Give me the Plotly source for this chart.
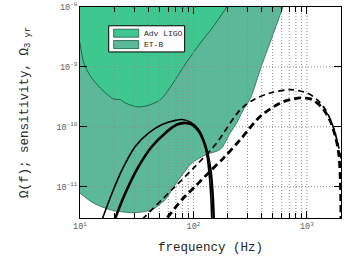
import math
import plotly.graph_objects as go

# ---------------- data ----------------
X_RANGE = [10, 2000]
Y_RANGE = [3e-12, 1e-8]
X_TICKS = [10, 100, 1000]
X_TICK_TEXT = ["10<sup>1</sup>", "10<sup>2</sup>", "10<sup>3</sup>"]
Y_TICKS = [1e-11, 1e-10, 1e-9, 1e-8]
Y_TICK_TEXT = ["10<sup>-11</sup>", "10<sup>-10</sup>", "10<sup>-9</sup>", "10<sup>-8</sup>"]

FREQ_LIGO = [10, 10.8, 12.4, 15.1, 19.7, 22.7, 25.1, 31.9, 39.1, 51.2, 69.3, 82.2, 115,
             146.9, 198]
OMEGA_LIGO = [2.53e-9, 1.16e-9, 6.95e-10, 4.45e-10, 2.92e-10, 2.84e-10, 2.50e-10,
              2.15e-10, 2.25e-10, 2.84e-10, 6.12e-10, 1.02e-9, 2.50e-9, 4.5e-9, 1.02e-8]

FREQ_ET = [10, 13.2, 18.6, 25, 32, 43, 50, 56.7, 66, 74.2, 86, 97.4, 127.6, 173,
           212, 240, 276, 318, 397, 490, 616]
OMEGA_ET = [7.8e-12, 5.3e-12, 4.1e-12, 3.75e-12, 3.7e-12, 4.1e-12, 5.0e-12, 6.1e-12,
            9.5e-12, 1.32e-11, 1.9e-11, 2.5e-11, 3.4e-11, 4.2e-11, 8.0e-11, 1.15e-10,
            1.94e-10, 3.0e-10, 1.02e-9, 3.0e-9, 1.0e-8]

FREQ_SOLID_THIN = [15.0, 15.88, 19.22, 23.54, 30.83, 40.37, 52.97, 69.36, 79.5, 94.1,
                   111.4, 126.3, 135.0, 142.0, 145.5]
OMEGA_SOLID_THIN = [2.28e-12, 3.03e-12, 7.91e-12, 1.93e-11, 4.73e-11, 7.91e-11, 1.09e-10,
                    1.28e-10, 1.32e-10, 1.19e-10, 8.98e-11, 5.05e-11, 2.26e-11, 7.41e-12,
                    2.34e-12]

FREQ_SOLID_THICK = [19.33, 20.55, 25.17, 32.96, 43.25, 56.65, 71.84, 85.0, 97.4, 111.4,
                    127.6, 141.2, 147.9, 151.0, 152.5]
OMEGA_SOLID_THICK = [2.17e-12, 3.03e-12, 7.91e-12, 2.20e-11, 4.73e-11, 7.91e-11, 1.09e-10,
                     1.16e-10, 1.09e-10, 8.41e-11, 4.73e-11, 1.93e-11, 6.95e-12, 3.03e-12,
                     2.09e-12]

FREQ_DASH_THIN = [30.83, 36.48, 64.9, 104.1, 156.2, 259.5, 339.9, 476.9, 715.6,
                  1004, 1230, 1455, 1678, 1857, 2055]
OMEGA_DASH_THIN = [2.20e-12, 3.03e-12, 8.98e-12, 2.20e-11, 5.05e-11, 1.94e-10,
                   2.84e-10, 3.67e-10, 4.17e-10, 3.67e-10, 2.84e-10, 1.94e-10, 1.09e-10,
                   5.66e-11, 2.34e-11]

FREQ_DASH_THICK = [51.2, 58.7, 79.5, 104.1, 136.4, 184.9, 259.5, 389.3, 584.1, 715.6,
                   876.3, 1074, 1230, 1406, 1611, 1783, 1906, 1973, 1997, 1999]
OMEGA_DASH_THICK = [2.21e-12, 3.03e-12, 6.12e-12, 1.02e-11, 1.71e-11, 3.03e-11, 6.12e-11,
                    1.50e-10, 2.50e-10, 2.84e-10, 3.03e-10, 2.92e-10, 2.50e-10, 1.94e-10,
                    1.24e-10, 6.95e-11, 3.67e-11, 1.32e-11, 3.22e-12, 1.5e-12]

LEGEND_LABELS = ["Adv LIGO", "ET-B"]

# ---------------- styles ----------------
MONO = "Liberation Mono"
LIGO_COLOR = "#3ec78f"
ET_COLOR = "#5bb898"
EDGE_COLOR = "#1b5a44"
GRID_COLOR = "#8c8c8c"
TICK_FONT_COLOR = "#606060"
TITLE_COLOR = "#262626"

fig = go.Figure()

def top_edge():
    fig.add_trace(go.Scatter(x=X_RANGE, y=[Y_RANGE[1]] * 2, mode="lines",
                             line=dict(width=0, color="rgba(0,0,0,0)"),
                             showlegend=False, hoverinfo="skip"))

# filled sensitivity regions
top_edge()
fig.add_trace(go.Scatter(x=FREQ_ET, y=OMEGA_ET, mode="lines", fill="tonexty",
                         fillcolor=ET_COLOR, name=LEGEND_LABELS[1],
                         line=dict(color=EDGE_COLOR, width=0.7, shape="spline", smoothing=0.8),
                         showlegend=False))
top_edge()
fig.add_trace(go.Scatter(x=FREQ_LIGO, y=OMEGA_LIGO, mode="lines", fill="tonexty",
                         fillcolor=LIGO_COLOR, name=LEGEND_LABELS[0],
                         line=dict(color=EDGE_COLOR, width=0.9, shape="spline", smoothing=0.8),
                         showlegend=False))

# dotted grid drawn above fills, below curves (as in the reference)
gx, gy = [], []
for d in range(1, 4):
    for m in range(1, 10):
        f = m * 10 ** d
        if X_RANGE[0] < f < X_RANGE[1]:
            gx += [f, f, None]
            gy += [Y_RANGE[0], Y_RANGE[1], None]
for v in Y_TICKS:
    if Y_RANGE[0] < v < Y_RANGE[1]:
        gx += [X_RANGE[0], X_RANGE[1], None]
        gy += [v, v, None]
fig.add_trace(go.Scatter(x=gx, y=gy, mode="lines", hoverinfo="skip", showlegend=False,
                         line=dict(color=GRID_COLOR, width=1, dash="1px,2px")))

fig.add_trace(go.Scatter(x=FREQ_SOLID_THIN, y=OMEGA_SOLID_THIN, mode="lines",
                         line=dict(color="black", width=1.6, shape="spline", smoothing=1.0),
                         showlegend=False))
fig.add_trace(go.Scatter(x=FREQ_SOLID_THICK, y=OMEGA_SOLID_THICK, mode="lines",
                         line=dict(color="black", width=2.6, shape="spline", smoothing=1.0),
                         showlegend=False))
fig.add_trace(go.Scatter(x=FREQ_DASH_THIN, y=OMEGA_DASH_THIN, mode="lines",
                         line=dict(color="black", width=1.7, dash="6px,4px",
                                   shape="spline", smoothing=0.9),
                         showlegend=False))
fig.add_trace(go.Scatter(x=FREQ_DASH_THICK, y=OMEGA_DASH_THICK, mode="lines",
                         line=dict(color="black", width=2.8, dash="7px,4px",
                                   shape="spline", smoothing=0.9),
                         showlegend=False))

axis_common = dict(
    type="log", showline=True, linecolor="black", linewidth=1, mirror="ticks",
    ticks="inside", ticklen=7, tickcolor="black", tickwidth=1,
    showgrid=False, zeroline=False, automargin=False,
    tickfont=dict(family=MONO, size=8.5, color=TICK_FONT_COLOR),
    title_font=dict(family=MONO, size=12.5, color=TITLE_COLOR),
)

fig.update_xaxes(**axis_common, range=[math.log10(X_RANGE[0]), math.log10(X_RANGE[1])],
                 tickmode="array", tickvals=X_TICKS, ticktext=X_TICK_TEXT,
                 minor=dict(dtick="D1", ticks="inside", ticklen=5, tickcolor="black",
                            showgrid=False),
                 title=dict(text="frequency (Hz)", standoff=11))
fig.update_yaxes(**axis_common, range=[math.log10(Y_RANGE[0]), math.log10(Y_RANGE[1])],
                 tickmode="array", tickvals=Y_TICKS, ticktext=Y_TICK_TEXT,
                 title=dict(text="Ω(f); sensitivity, Ω<sub>3 yr</sub>", standoff=25))

# custom compact legend
fig.add_shape(type="rect", xref="paper", yref="paper", x0=0.110, x1=0.401, y0=0.787, y1=0.911,
              line=dict(color="black", width=1), fillcolor="white", layer="above")
for i, (lab, col) in enumerate(zip(LEGEND_LABELS, [LIGO_COLOR, ET_COLOR])):
    yc = 0.876 - i * 0.054
    fig.add_shape(type="rect", xref="paper", yref="paper", x0=0.129, x1=0.225,
                  y0=yc - 0.019, y1=yc + 0.019, fillcolor=col,
                  line=dict(color=EDGE_COLOR, width=0.8), layer="above")
    fig.add_annotation(x=0.236, y=yc, xref="paper", yref="paper", text=lab,
                       showarrow=False, xanchor="left", yanchor="middle",
                       font=dict(family=MONO, size=8, color=TITLE_COLOR))

fig.update_layout(
    width=350, height=264, margin=dict(l=80, r=9, t=7, b=46),
    paper_bgcolor="white", plot_bgcolor="white", showlegend=False,
)

fig.write_html("out.html", config={"displayModeBar": False},
               post_script="document.body.style.margin='0';document.body.style.overflow='hidden';")
